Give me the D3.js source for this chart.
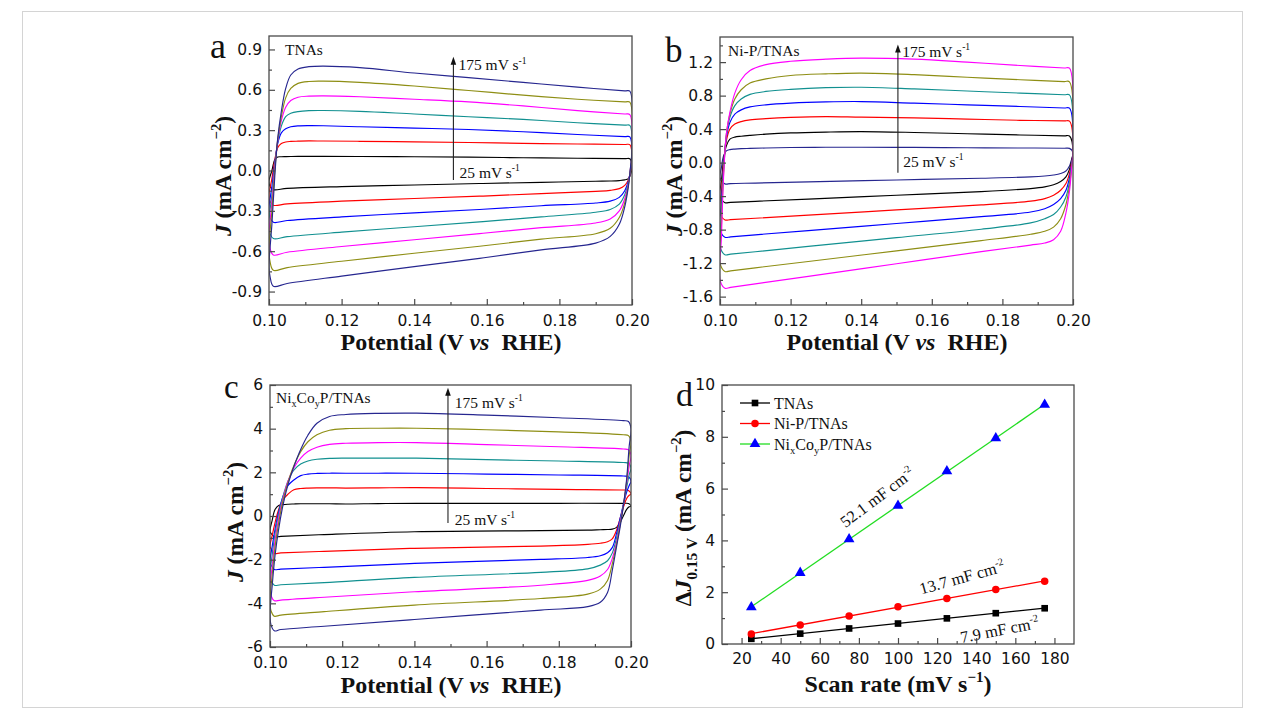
<!DOCTYPE html>
<html>
<head>
<meta charset="utf-8">
<script src="https://cdn.jsdelivr.net/npm/d3@7"></script>
<style>
  body { margin: 0; background: #fff; }
</style>
</head>
<body>
<svg id="fig" width="1265" height="718"></svg>
<script>
// ---------------- data ----------------
const scanRates = [25, 50, 75, 100, 125, 150, 175];

// (a) TNAs — cyclic voltammograms, anodic sweep then cathodic sweep (J in mA cm^-2)
const tnasPotFwd = [0.1000, 0.1008, 0.1016, 0.1024, 0.1034, 0.1046, 0.1060, 0.1080, 0.1110, 0.1150, 0.1250, 0.1400, 0.1550, 0.1700, 0.1850, 0.1980, 0.1994];
const tnasPotRev = [0.2000, 0.1996, 0.1990, 0.1980, 0.1965, 0.1940, 0.1900, 0.1750, 0.1580, 0.1400, 0.1200, 0.1050, 0.1012, 0.1003];
const tnasFwd = [
  [-0.08, 0.00, 0.08, 0.100, 0.102, 0.103, 0.104, 0.105, 0.105, 0.105, 0.104, 0.102, 0.099, 0.095, 0.091, 0.088, 0.087],
  [-0.18, -0.06, 0.08, 0.17, 0.20, 0.212, 0.216, 0.218, 0.220, 0.219, 0.217, 0.213, 0.208, 0.202, 0.197, 0.193, 0.192],
  [-0.28, -0.12, 0.06, 0.20, 0.28, 0.31, 0.325, 0.332, 0.334, 0.333, 0.325, 0.315, 0.305, 0.288, 0.268, 0.252, 0.250],
  [-0.38, -0.18, 0.04, 0.21, 0.33, 0.40, 0.425, 0.438, 0.445, 0.446, 0.440, 0.420, 0.400, 0.380, 0.355, 0.337, 0.335],
  [-0.48, -0.24, 0.02, 0.22, 0.37, 0.47, 0.52, 0.545, 0.553, 0.555, 0.548, 0.530, 0.510, 0.480, 0.445, 0.420, 0.416],
  [-0.58, -0.30, 0.00, 0.23, 0.40, 0.54, 0.61, 0.648, 0.662, 0.664, 0.655, 0.628, 0.595, 0.560, 0.530, 0.510, 0.508],
  [-0.72, -0.40, -0.04, 0.24, 0.44, 0.61, 0.71, 0.755, 0.772, 0.776, 0.765, 0.725, 0.690, 0.655, 0.620, 0.592, 0.590]
];
const tnasRev = [
  [0.03, -0.03, -0.06, -0.07, -0.075, -0.078, -0.080, -0.088, -0.097, -0.108, -0.120, -0.133, -0.142, -0.12],
  [0.06, -0.01, -0.07, -0.11, -0.135, -0.148, -0.155, -0.172, -0.191, -0.208, -0.228, -0.248, -0.258, -0.23],
  [0.08, 0.00, -0.08, -0.15, -0.20, -0.228, -0.242, -0.262, -0.290, -0.315, -0.345, -0.372, -0.385, -0.35],
  [0.10, 0.01, -0.09, -0.18, -0.25, -0.29, -0.31, -0.345, -0.382, -0.418, -0.458, -0.492, -0.506, -0.47],
  [0.12, 0.02, -0.10, -0.21, -0.30, -0.36, -0.39, -0.425, -0.469, -0.515, -0.565, -0.608, -0.628, -0.58],
  [0.14, 0.02, -0.11, -0.24, -0.35, -0.43, -0.47, -0.51, -0.563, -0.615, -0.675, -0.722, -0.742, -0.68],
  [0.16, 0.03, -0.12, -0.27, -0.40, -0.49, -0.54, -0.59, -0.653, -0.715, -0.785, -0.840, -0.861, -0.79]
];

// (b) Ni-P/TNAs
const nipPotFwd = [0.1000, 0.1004, 0.1010, 0.1018, 0.1028, 0.1042, 0.1060, 0.1085, 0.1130, 0.1200, 0.1300, 0.1400, 0.1550, 0.1700, 0.1850, 0.1975, 0.1990];
const nipPotRev = [0.2000, 0.1996, 0.1990, 0.1980, 0.1965, 0.1945, 0.1920, 0.1880, 0.1740, 0.1500, 0.1250, 0.1100, 0.1030, 0.1014];
const nipFwd = [
  [-0.18, -0.06, 0.08, 0.14, 0.155, 0.162, 0.167, 0.170, 0.175, 0.180, 0.183, 0.184, 0.182, 0.178, 0.175, 0.172, 0.170],
  [-0.40, -0.22, 0.02, 0.20, 0.28, 0.305, 0.315, 0.325, 0.340, 0.355, 0.365, 0.370, 0.360, 0.345, 0.330, 0.320, 0.318],
  [-0.60, -0.35, -0.02, 0.26, 0.40, 0.46, 0.49, 0.51, 0.525, 0.540, 0.550, 0.543, 0.535, 0.520, 0.505, 0.498, 0.495],
  [-0.80, -0.48, -0.06, 0.30, 0.48, 0.58, 0.63, 0.665, 0.69, 0.71, 0.725, 0.729, 0.71, 0.69, 0.67, 0.652, 0.650],
  [-1.00, -0.62, -0.10, 0.32, 0.54, 0.68, 0.76, 0.815, 0.85, 0.875, 0.895, 0.90, 0.88, 0.855, 0.83, 0.81, 0.808],
  [-1.20, -0.75, -0.14, 0.34, 0.58, 0.76, 0.87, 0.95, 1.00, 1.04, 1.06, 1.069, 1.05, 1.02, 0.99, 0.968, 0.965],
  [-1.40, -0.90, -0.18, 0.34, 0.60, 0.83, 0.99, 1.10, 1.17, 1.21, 1.235, 1.248, 1.235, 1.20, 1.16, 1.13, 1.128]
];
const nipRev = [
  [0.12, 0.04, -0.04, -0.10, -0.13, -0.148, -0.16, -0.17, -0.186, -0.207, -0.23, -0.244, -0.25, -0.254],
  [0.12, 0.02, -0.08, -0.17, -0.225, -0.265, -0.29, -0.31, -0.346, -0.39, -0.435, -0.462, -0.474, -0.478],
  [0.12, 0.00, -0.13, -0.25, -0.33, -0.39, -0.43, -0.46, -0.505, -0.565, -0.627, -0.664, -0.68, -0.684],
  [0.12, -0.02, -0.18, -0.33, -0.43, -0.50, -0.55, -0.59, -0.645, -0.727, -0.812, -0.862, -0.886, -0.891],
  [0.12, -0.04, -0.23, -0.41, -0.53, -0.62, -0.67, -0.72, -0.795, -0.896, -1.00, -1.064, -1.093, -1.10],
  [0.12, -0.06, -0.28, -0.50, -0.67, -0.77, -0.82, -0.855, -0.931, -1.053, -1.18, -1.256, -1.292, -1.30],
  [0.12, -0.08, -0.34, -0.60, -0.82, -0.92, -0.96, -0.985, -1.063, -1.207, -1.358, -1.448, -1.49, -1.50]
];

// (c) NixCoyP/TNAs
const nicopPotFwd = [0.1000, 0.1006, 0.1014, 0.1024, 0.1036, 0.1050, 0.1066, 0.1085, 0.1105, 0.1130, 0.1165, 0.1210, 0.1300, 0.1406, 0.1600, 0.1800, 0.1979, 0.1993];
const nicopPotRev = [0.2000, 0.1995, 0.1988, 0.1980, 0.1970, 0.1960, 0.1948, 0.1935, 0.1915, 0.1880, 0.1750, 0.1400, 0.1150, 0.1030, 0.1012, 0.1003];
const nicopFwd = [
  [-0.7, -0.2, 0.3, 0.48, 0.52, 0.54, 0.55, 0.56, 0.56, 0.56, 0.56, 0.55, 0.57, 0.58, 0.58, 0.58, 0.58, 0.57],
  [-1.4, -0.9, -0.3, 0.3, 0.75, 1.0, 1.2, 1.26, 1.28, 1.29, 1.29, 1.28, 1.29, 1.30, 1.26, 1.22, 1.19, 1.17],
  [-2.1, -1.4, -0.6, 0.2, 0.9, 1.4, 1.65, 1.85, 1.92, 1.95, 1.96, 1.96, 1.96, 1.96, 1.92, 1.88, 1.83, 1.80],
  [-2.7, -1.8, -0.8, 0.1, 0.9, 1.6, 2.1, 2.38, 2.52, 2.60, 2.64, 2.65, 2.65, 2.65, 2.58, 2.52, 2.45, 2.42],
  [-3.3, -2.3, -1.1, -0.1, 0.8, 1.6, 2.2, 2.65, 2.95, 3.15, 3.28, 3.33, 3.36, 3.36, 3.27, 3.17, 3.07, 3.03],
  [-3.9, -2.7, -1.4, -0.3, 0.7, 1.55, 2.3, 2.95, 3.4, 3.72, 3.93, 4.00, 4.02, 4.02, 3.95, 3.85, 3.72, 3.68],
  [-4.5, -3.2, -1.8, -0.6, 0.5, 1.45, 2.26, 3.05, 3.7, 4.25, 4.56, 4.65, 4.70, 4.71, 4.62, 4.50, 4.37, 4.33]
];
const nicopRev = [
  [0.45, 0.42, 0.3, 0.05, -0.3, -0.52, -0.6, -0.62, -0.63, -0.65, -0.67, -0.72, -0.85, -0.93, -0.95, -0.8],
  [1.0, 0.95, 0.8, 0.45, -0.1, -0.65, -1.05, -1.18, -1.25, -1.3, -1.38, -1.48, -1.62, -1.69, -1.71, -1.5],
  [1.6, 1.4, 1.1, 0.6, -0.1, -0.8, -1.45, -1.68, -1.82, -1.9, -1.99, -2.17, -2.35, -2.43, -2.45, -2.25],
  [2.2, 1.9, 1.3, 0.6, -0.2, -1.0, -1.7, -2.05, -2.25, -2.42, -2.58, -2.81, -3.05, -3.15, -3.17, -2.95],
  [2.8, 2.3, 1.5, 0.6, -0.3, -1.2, -1.95, -2.45, -2.75, -2.95, -3.17, -3.47, -3.72, -3.85, -3.88, -3.65],
  [3.4, 2.8, 1.6, 0.6, -0.4, -1.3, -2.2, -2.95, -3.35, -3.58, -3.78, -4.08, -4.38, -4.54, -4.59, -4.35],
  [4.0, 3.2, 1.7, 0.6, -0.5, -1.4, -2.5, -3.5, -3.95, -4.15, -4.31, -4.74, -5.05, -5.2, -5.26, -5.0]
];

// (d) current density difference at 0.15 V vs scan rate
const dJTNAs  = [0.20, 0.40, 0.60, 0.79, 0.99, 1.19, 1.38];
const dJNiP   = [0.39, 0.73, 1.08, 1.44, 1.76, 2.10, 2.42];
const dJNiCoP = [1.42, 2.75, 4.05, 5.34, 6.67, 7.95, 9.24];
const cdlLabels = ['7.9', '13.7', '52.1'];

// tick values
const cvXMajor = [0.10, 0.12, 0.14, 0.16, 0.18, 0.20];
const cvXMinor = [0.11, 0.13, 0.15, 0.17, 0.19];
const aYMajor = [-0.9, -0.6, -0.3, 0.0, 0.3, 0.6, 0.9];
const aYMinor = [-0.75, -0.45, -0.15, 0.15, 0.45, 0.75];
const bYMajor = [-1.6, -1.2, -0.8, -0.4, 0.0, 0.4, 0.8, 1.2];
const bYMinor = [-1.4, -1.0, -0.6, -0.2, 0.2, 0.6, 1.0, 1.4];
const cYMajor = [-6, -4, -2, 0, 2, 4, 6];
const cYMinor = [-5, -3, -1, 1, 3, 5];
const dXMajor = [20, 40, 60, 80, 100, 120, 140, 160, 180];
const dXMinor = [30, 50, 70, 90, 110, 130, 150, 170];
const dYMajor = [0, 2, 4, 6, 8, 10];
const dYMinor = [1, 3, 5, 7, 9];

// ---------------- styles ----------------
const SERIF = '"Liberation Serif","Times New Roman",serif';
const SANS = '"DejaVu Sans","Liberation Sans",Arial,sans-serif';
const FRAME = '#4a4a4a';
const C = { black: '#000000', red: '#ff0000', blue: '#0000ff', teal: '#119090', magenta: '#ff00ff', olive: '#8e8e14', navy: '#26268f' };
const colorsAC = [C.black, C.red, C.blue, C.teal, C.magenta, C.olive, C.navy];
const colorsB = [C.navy, C.black, C.red, C.blue, C.teal, C.olive, C.magenta];

const svg = d3.select('#fig');

// ---------------- helpers ----------------
const hyph = f => d => f(d).replace('\u2212', '-');

function drawAxes(x, y, xMajor, xMinor, yMajor, yMinor, fx, fy, xPad) {
  const [xl, xr] = x.range();
  const [yb, yt] = y.range();
  const g = svg.append('g');
  const style = sel => {
    sel.select('.domain').remove();
    sel.selectAll('.tick line').attr('stroke', FRAME).attr('stroke-width', 1.2);
    sel.selectAll('.tick text').attr('font-family', SANS).attr('font-size', 15.5).attr('fill', '#111');
  };
  g.append('g').attr('transform', `translate(0,${yb})`)
    .call(d3.axisBottom(x).tickValues(xMinor).tickSize(-3).tickSizeOuter(0).tickFormat('')).call(style);
  g.append('g').attr('transform', `translate(0,${yb})`)
    .call(d3.axisBottom(x).tickValues(xMajor).tickSize(-6).tickSizeOuter(0).tickPadding(xPad).tickFormat(fx)).call(style);
  g.append('g').attr('transform', `translate(${xl},0)`)
    .call(d3.axisLeft(y).tickValues(yMinor).tickSize(-3).tickSizeOuter(0).tickFormat('')).call(style);
  g.append('g').attr('transform', `translate(${xl},0)`)
    .call(d3.axisLeft(y).tickValues(yMajor).tickSize(-6).tickSizeOuter(0).tickPadding(7).tickFormat(fy)).call(style);
  g.append('rect').attr('x', xl).attr('y', yt).attr('width', xr - xl).attr('height', yb - yt)
    .attr('fill', 'none').attr('stroke', FRAME).attr('stroke-width', 1.3);
}

let clipCount = 0;
function drawCV(x, y, potFwd, potRev, fwd, rev, colors) {
  const id = 'clip' + (clipCount++);
  const [xl, xr] = x.range();
  const [yb, yt] = y.range();
  svg.append('clipPath').attr('id', id).append('rect')
    .attr('x', xl).attr('y', yt).attr('width', xr - xl).attr('height', yb - yt);
  const g = svg.append('g').attr('clip-path', `url(#${id})`);
  const line = d3.line().x(d => x(d[0])).y(d => y(d[1])).curve(d3.curveCatmullRomClosed.alpha(0.5));
  fwd.forEach((f, i) => {
    const pts = potFwd.map((v, k) => [v, f[k]]).concat(potRev.map((v, k) => [v, rev[i][k]]));
    g.append('path').attr('d', line(pts)).attr('fill', 'none')
      .attr('stroke', colors[i]).attr('stroke-width', 1.15).attr('stroke-linejoin', 'round');
  });
}

function addText(parent, x, y, parts, opt) {
  const t = parent.append('text').attr('x', x).attr('y', y)
    .attr('font-family', opt.family || SERIF).attr('font-size', opt.size)
    .attr('font-weight', opt.weight || 'normal').attr('fill', opt.fill || '#111')
    .attr('text-anchor', opt.anchor || 'start');
  if (opt.transform) t.attr('transform', opt.transform);
  let shift = 0;
  parts.forEach(p => {
    const s = t.append('tspan').text(p.t);
    let target = 0;
    if (p.sup) { target = -opt.size * 0.42; s.attr('font-size', opt.size * 0.62); }
    if (p.sub) { target = opt.size * 0.25; s.attr('font-size', opt.size * 0.66); }
    if (target !== shift) { s.attr('dy', target - shift); shift = target; }
    if (p.italic) s.attr('font-style', 'italic');
  });
  return t;
}

function rateArrow(x, y, v, j0, j1, top, bottom) {
  const g = svg.append('g');
  const xp = x(v);
  g.append('line').attr('x1', xp).attr('x2', xp).attr('y1', y(j0)).attr('y2', y(j1) + 6)
    .attr('stroke', '#222').attr('stroke-width', 1.1);
  g.append('path').attr('d', `M${xp},${y(j1)} l-2.8,8 l5.6,0 z`).attr('fill', '#111');
  addText(g, x(top[0]), y(top[1]), [{ t: '175 mV s' }, { t: '-1', sup: true }], { size: 15.5 });
  addText(g, x(bottom[0]), y(bottom[1]), [{ t: '25 mV s' }, { t: '-1', sup: true }], { size: 15.5 });
}

function yTitleJ(cx, cy) {
  addText(svg, 0, 0, [{ t: 'J', italic: true }, { t: ' (mA cm' }, { t: '\u22122', sup: true }, { t: ')' }],
    { size: 23.5, weight: 'bold', anchor: 'middle', transform: `translate(${cx},${cy}) rotate(-90)` });
}
function xTitlePotential(cx, cy) {
  addText(svg, cx, cy, [{ t: 'Potential (V ' }, { t: 'vs', italic: true }, { t: '\u00a0 RHE)' }],
    { size: 24, weight: 'bold', anchor: 'middle' });
}

// figure border
svg.append('rect').attr('x', 22.5).attr('y', 11.5).attr('width', 1220).attr('height', 696)
  .attr('fill', 'none').attr('stroke', '#d4d4d4').attr('stroke-width', 1);

// ---------------- panel a ----------------
const xa = d3.scaleLinear().domain([0.10, 0.20]).range([269, 632]);
const ya = d3.scaleLinear().domain([-1.0, 1.0]).range([305, 36]);
drawCV(xa, ya, tnasPotFwd, tnasPotRev, tnasFwd, tnasRev, colorsAC);
drawAxes(xa, ya, cvXMajor, cvXMinor, aYMajor, aYMinor, hyph(d3.format('.2f')), hyph(d3.format('.1f')), 10);
rateArrow(xa, ya, 0.1508, -0.07, 0.845, [0.1522, 0.745], [0.1525, -0.055]);
addText(svg, 285, 55, [{ t: 'TNAs' }], { size: 15.5 });
addText(svg, 210, 58, [{ t: 'a' }], { size: 36 });
yTitleJ(231, 176);
xTitlePotential(451, 350);

// ---------------- panel b ----------------
const xb = d3.scaleLinear().domain([0.10, 0.20]).range([720, 1073]);
const yb = d3.scaleLinear().domain([-1.7, 1.5]).range([305, 37]);
drawCV(xb, yb, nipPotFwd, nipPotRev, nipFwd, nipRev, colorsB);
drawAxes(xb, yb, cvXMajor, cvXMinor, bYMajor, bYMinor, hyph(d3.format('.2f')), hyph(d3.format('.1f')), 10);
rateArrow(xb, yb, 0.1504, -0.12, 1.41, [0.1516, 1.265], [0.1519, -0.05]);
addText(svg, 728, 56, [{ t: 'Ni-P/TNAs' }], { size: 15.5 });
addText(svg, 665, 62, [{ t: 'b' }], { size: 35 });
yTitleJ(682, 176);
xTitlePotential(897, 350);

// ---------------- panel c ----------------
const xc = d3.scaleLinear().domain([0.10, 0.20]).range([270, 631]);
const yc = d3.scaleLinear().domain([-6, 6]).range([647, 385]);
drawCV(xc, yc, nicopPotFwd, nicopPotRev, nicopFwd, nicopRev, colorsAC);
drawAxes(xc, yc, cvXMajor, cvXMinor, cYMajor, cYMinor, hyph(d3.format('.2f')), hyph(d3.format('d')), 10);
rateArrow(xc, yc, 0.1493, -0.32, 5.87, [0.1512, 4.95], [0.1512, -0.41]);
addText(svg, 276, 403, [{ t: 'Ni' }, { t: 'x', sub: true }, { t: 'Co' }, { t: 'y', sub: true }, { t: 'P/TNAs' }], { size: 15.5 });
addText(svg, 224, 398, [{ t: 'c' }], { size: 33 });
yTitleJ(243, 522);
xTitlePotential(451, 693);

// ---------------- panel d ----------------
const xd = d3.scaleLinear().domain([10, 190]).range([722, 1074]);
const yd = d3.scaleLinear().domain([0, 10]).range([644, 385]);
drawAxes(xd, yd, dXMajor, dXMinor, dYMajor, dYMinor, hyph(d3.format('d')), hyph(d3.format('d')), 9);

const dSeries = [
  { name: [{ t: 'TNAs' }], vals: dJTNAs, line: '#000', fill: '#000', shape: d3.symbolSquare, size: 44 },
  { name: [{ t: 'Ni-P/TNAs' }], vals: dJNiP, line: '#ff0000', fill: '#ff0000', shape: d3.symbolCircle, size: 44 },
  { name: [{ t: 'Ni' }, { t: 'x', sub: true }, { t: 'Co' }, { t: 'y', sub: true }, { t: 'P/TNAs' }], vals: dJNiCoP, line: '#22dd22', fill: '#0000ff', shape: d3.symbolTriangle, size: 50 }
];

// least-squares fit lines through each series
function fit(xs, ys) {
  const mx = d3.mean(xs), my = d3.mean(ys);
  const b = d3.sum(xs, (v, i) => (v - mx) * (ys[i] - my)) / d3.sum(xs, v => (v - mx) * (v - mx));
  return { b, a: my - b * mx };
}
const gd = svg.append('g');
dSeries.forEach(s => {
  const f = fit(scanRates, s.vals);
  const x0 = d3.min(scanRates), x1 = d3.max(scanRates);
  gd.append('line').attr('x1', xd(x0)).attr('y1', yd(f.a + f.b * x0))
    .attr('x2', xd(x1)).attr('y2', yd(f.a + f.b * x1))
    .attr('stroke', s.line).attr('stroke-width', 1.3);
});
dSeries.forEach(s => {
  gd.selectAll(null).data(scanRates).enter().append('path')
    .attr('transform', (d, i) => `translate(${xd(d)},${yd(s.vals[i])})`)
    .attr('d', d3.symbol().type(s.shape).size(s.size)).attr('fill', s.fill);
});

// legend
dSeries.forEach((s, i) => {
  const ly = 403 + i * 20.5;
  gd.append('line').attr('x1', 740).attr('x2', 770).attr('y1', ly).attr('y2', ly)
    .attr('stroke', s.line).attr('stroke-width', 1.3);
  gd.append('path').attr('transform', `translate(755,${ly})`)
    .attr('d', d3.symbol().type(s.shape).size(s.size)).attr('fill', s.fill);
  addText(gd, 774, ly + 5.5, s.name, { size: 16 });
});

// specific capacitance labels along the fits (baseline anchor in data units, angle in degrees)
const cdlPos = [[152.5, 0.33, -11], [133.5, 2.36, -15.5], [91.1, 5.49, -37]];
cdlLabels.forEach((lab, i) => {
  const [vx, vy, rot] = cdlPos[i];
  addText(gd, 0, 0, [{ t: lab + ' mF cm' }, { t: '-2', sup: true }],
    { size: 16.5, anchor: 'middle', transform: `translate(${xd(vx)},${yd(vy)}) rotate(${rot})` });
});

addText(svg, 676, 406, [{ t: 'd' }], { size: 34 });
addText(svg, 0, 0, [{ t: '\u0394' }, { t: 'J', italic: true }, { t: '0.15 V', sub: true }, { t: ' (mA cm' }, { t: '\u22122', sup: true }, { t: ')' }],
  { size: 23.5, weight: 'bold', anchor: 'middle', transform: `translate(691,518) rotate(-90)` });
addText(svg, 898, 692, [{ t: 'Scan rate (mV s' }, { t: '\u22121', sup: true }, { t: ')' }],
  { size: 24, weight: 'bold', anchor: 'middle' });
</script>
</body>
</html>
